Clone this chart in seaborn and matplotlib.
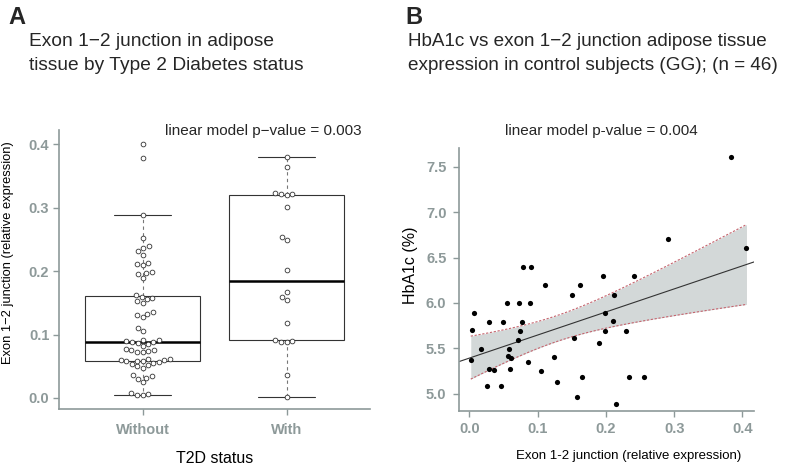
import numpy as np
import pandas as pd
import matplotlib
matplotlib.use("Agg")
import matplotlib.pyplot as plt
import seaborn as sns

sns.set_style("ticks")
plt.rcParams["font.family"] = ["Liberation Sans", "DejaVu Sans"]

# ---------------- data ----------------
groups = ["Without", "With"]
without_vals = [0.004, 0.005, 0.006, 0.008, 0.025, 0.030, 0.032, 0.034, 0.036,
                0.048, 0.050, 0.052, 0.054, 0.055, 0.056, 0.058, 0.058, 0.059,
                0.060, 0.060, 0.061, 0.062,
                0.072, 0.073, 0.074, 0.075, 0.076, 0.078, 0.082, 0.085, 0.087,
                0.088, 0.089, 0.090, 0.091, 0.092,
                0.105, 0.110,
                0.128, 0.131, 0.133, 0.135,
                0.150, 0.153, 0.156, 0.158, 0.160, 0.162,
                0.190, 0.195, 0.197, 0.199,
                0.209, 0.211, 0.213,
                0.226, 0.232, 0.237, 0.240,
                0.253, 0.288, 0.378, 0.400]
with_vals = [0.0016, 0.037, 0.088, 0.089, 0.090, 0.091, 0.119, 0.155, 0.160,
             0.167, 0.202, 0.249, 0.254, 0.301, 0.320, 0.321, 0.322, 0.324,
             0.365, 0.380]

exon_x = [0.383, 0.291, 0.406, 0.079, 0.090, 0.111, 0.162, 0.150, 0.196, 0.241,
          0.212, 0.0557, 0.0728, 0.0885, 0.0069, 0.199,
          0.004, 0.029, 0.0498, 0.0772, 0.210, 0.0743, 0.199, 0.229, 0.0176,
          0.0577, 0.0718, 0.153, 0.190, 0.002, 0.0567, 0.061, 0.0855, 0.1246,
          0.0284, 0.0362, 0.0592, 0.1055, 0.0264, 0.0464, 0.128, 0.165,
          0.2345, 0.2555, 0.157, 0.2145]
hba1c_y = [7.61, 6.70, 6.60, 6.40, 6.40, 6.20, 6.20, 6.09, 6.30, 6.30,
           6.09, 6.00, 6.00, 6.00, 5.89, 5.89,
           5.70, 5.79, 5.79, 5.79, 5.80, 5.69, 5.69, 5.69, 5.49,
           5.49, 5.59, 5.61, 5.56, 5.37, 5.42, 5.39, 5.35, 5.40,
           5.27, 5.26, 5.275, 5.25, 5.08, 5.08, 5.13, 5.18,
           5.18, 5.18, 4.96, 4.89]

yticksA = [0.0, 0.1, 0.2, 0.3, 0.4]
yticksB = [5.0, 5.5, 6.0, 6.5, 7.0, 7.5]
xticksB = [0.0, 0.1, 0.2, 0.3, 0.4]

dfA = pd.DataFrame({
    "status": ["Without"] * len(without_vals) + ["With"] * len(with_vals),
    "value": without_vals + with_vals,
})
dfB = pd.DataFrame({"exon": exon_x, "hba1c": hba1c_y})

GRAY = "#8d9999"
DARK = "#333333"

fig = plt.figure(figsize=(7.92, 4.66), dpi=100)
axA = fig.add_axes([0.0745, 0.1223, 0.3927, 0.5987])
axB = fig.add_axes([0.580, 0.1187, 0.372, 0.563])

# ---------------- panel A ----------------
sns.boxplot(data=dfA, x="status", y="value", order=groups, ax=axA,
            color="white", linecolor=DARK, linewidth=0.8, width=0.8,
            showfliers=False,
            whiskerprops=dict(linestyle=(0, (3, 3)), color="#777777"),
            medianprops=dict(color="black", linewidth=1.8))
sns.swarmplot(data=dfA, x="status", y="value", order=groups, ax=axA,
              size=3.4, color="white", edgecolor=DARK, linewidth=0.6, zorder=3)
axA.set_xlim(-0.58, 1.58)
axA.set_ylim(-0.0174, 0.4227)
axA.set_yticks(yticksA)
axA.set_yticklabels([f"{v:.1f}" for v in yticksA])
axA.set_xlabel("T2D status", fontsize=11.5, color="black")
axA.set_ylabel("Exon 1\u22122 junction (relative expression)", fontsize=9.3,
               color="black")
axA.xaxis.set_label_coords(0.5, -0.15)
axA.yaxis.set_label_coords(-0.145, 0.56)
axA.text(0.656, 0.982, "linear model p\u2212value = 0.003", transform=axA.transAxes,
         ha="center", va="baseline", fontsize=11)
axA.tick_params(axis="x", colors=GRAY, length=4, width=1, labelsize=10.5, pad=6)
axA.tick_params(axis="y", colors=GRAY, length=4, width=1, labelsize=10.5, pad=3)

# ---------------- panel B ----------------
x = np.asarray(exon_x)
y = np.asarray(hba1c_y)
n = len(x)
xbar = x.mean()
sxx = ((x - xbar) ** 2).sum()
b1 = ((x - xbar) * (y - y.mean())).sum() / sxx
b0 = y.mean() - b1 * xbar
s = np.sqrt(((y - (b0 + b1 * x)) ** 2).sum() / (n - 2))
tq = 2.0154
xg = np.linspace(x.min(), x.max(), 100)
yg = b0 + b1 * xg
se = s * np.sqrt(1 / n + (xg - xbar) ** 2 / sxx)

axB.set_xlim(-0.0147, 0.417)
axB.set_ylim(4.813, 7.703)
axB.fill_between(xg, yg - tq * se, yg + tq * se, color="#d3d8d8", lw=0, zorder=1)
axB.plot(xg, yg + tq * se, color="#c5646e", lw=0.8, ls=(0, (2, 1.5)), zorder=2)
axB.plot(xg, yg - tq * se, color="#c5646e", lw=0.8, ls=(0, (2, 1.5)), zorder=2)
xl = np.array(axB.get_xlim())
axB.plot(xl, b0 + b1 * xl, color=DARK, lw=0.8, zorder=2)
sns.scatterplot(data=dfB, x="exon", y="hba1c", ax=axB, color="black", s=14,
                linewidth=0, zorder=3)
axB.set_xlim(-0.0147, 0.417)
axB.set_ylim(4.813, 7.703)
axB.set_xticks(xticksB)
axB.set_xticklabels([f"{v:.1f}" for v in xticksB])
axB.set_yticks(yticksB)
axB.set_yticklabels([f"{v:.1f}" for v in yticksB])
axB.set_xlabel("Exon 1-2 junction (relative expression)", fontsize=9.5,
               color="black")
axB.set_ylabel("HbA1c (%)", fontsize=11.5, color="black")
axB.xaxis.set_label_coords(0.573, -0.15)
axB.yaxis.set_label_coords(-0.14, 0.555)
axB.text(0.481, 1.051, "linear model p-value = 0.004", transform=axB.transAxes,
         ha="center", va="baseline", fontsize=11)
axB.tick_params(axis="x", colors=GRAY, length=4.3, width=1, labelsize=10.5, pad=4)
axB.tick_params(axis="y", colors=GRAY, length=4.3, width=1, labelsize=10.5, pad=5)

for ax in (axA, axB):
    for side in ("top", "right"):
        ax.spines[side].set_visible(False)
    for side in ("left", "bottom"):
        ax.spines[side].set_color(GRAY)
        ax.spines[side].set_linewidth(1.2)
    for lbl in ax.get_xticklabels() + ax.get_yticklabels():
        lbl.set_fontweight("bold")

# ---------------- titles ----------------
fig.text(8 / 792, 1 - 24 / 466, "A", fontsize=17, fontweight="bold", va="baseline")
fig.text(405 / 792, 1 - 24 / 466, "B", fontsize=17, fontweight="bold", va="baseline")
fig.text(29 / 792, 1 - 46 / 466, "Exon 1\u22122 junction in adipose", fontsize=13.8,
         va="baseline")
fig.text(29 / 792, 1 - 69.5 / 466, "tissue by Type 2 Diabetes status", fontsize=13.8,
         va="baseline")
fig.text(408 / 792, 1 - 46 / 466, "HbA1c vs exon 1\u22122 junction adipose tissue",
         fontsize=13.6, va="baseline")
fig.text(408 / 792, 1 - 69.5 / 466, "expression in control subjects (GG); (n = 46)",
         fontsize=13.6, va="baseline")

fig.savefig("out.png", dpi=100)
